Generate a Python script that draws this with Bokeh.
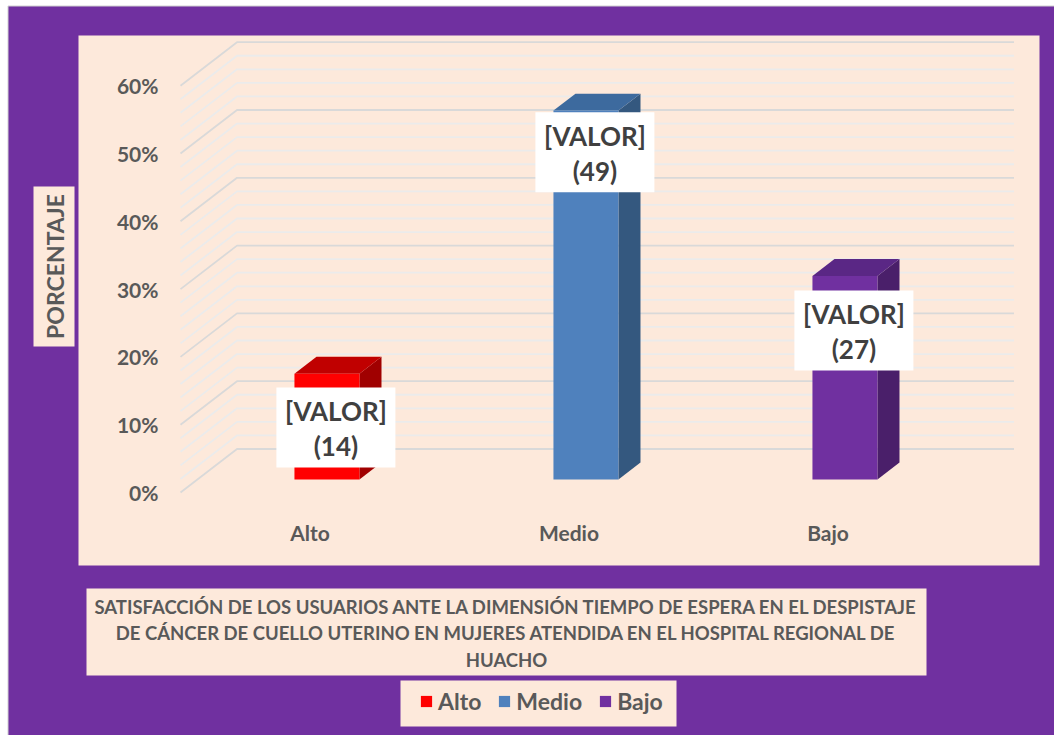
import numpy as np
from bokeh.plotting import figure
from bokeh.models import (Range1d, LinearAxis, FixedTicker, PrintfTickFormatter,
                          ColumnDataSource, Legend, LegendItem)
from bokeh.core.properties import value
from bokeh.embed import file_html
from bokeh.resources import INLINE

# ---------------- data ----------------
categories = ["Alto", "Medio", "Bajo"]
percent = [15.6, 54.4, 30.0]
counts = [14, 49, 27]
y_ticks = [0, 10, 20, 30, 40, 50, 60]
y_max = 60
minor_step = 2
y_title = "PORCENTAJE"
title_lines = [
    "SATISFACCIÓN DE LOS USUARIOS ANTE LA DIMENSIÓN TIEMPO DE ESPERA EN EL DESPISTAJE",
    "DE CÁNCER DE CUELLO UTERINO EN MUJERES ATENDIDA EN EL HOSPITAL REGIONAL DE",
    "HUACHO",
]
label_text = "[VALOR]"

# ---------------- styles ----------------
front_colors = ["#FF0000", "#4F81BD", "#7030A0"]
top_colors = ["#C00000", "#3D6A9E", "#5A2785"]
side_colors = ["#A00000", "#34587F", "#4A1F6A"]
PURPLE = "#7030A0"
PEACH = "#FDE9DB"
TXT = "#595959"
FONT = value("Lato")

W, H = 1054, 735
OX, OY = 0, 0                 # page offset of the canvas
PX_PER_CAT = 259.0            # front plane: one category bin in px
PX_PER_PCT = 6.78             # px per percent
X0_PAGE, Y0_PAGE = 180.0, 492.0  # front-left corner (x=-0.5, y=0)


def px_x(X):
    return (X - X0_PAGE) / PX_PER_CAT - 0.5


def px_y(Y):
    return (Y0_PAGE - Y) / PX_PER_PCT


DX = 56.5 / PX_PER_CAT        # depth offset (front -> back wall) in x units
DY = 43.5 / PX_PER_PCT        # depth offset in y units
ZF, ZB = 0.30, 0.69           # bar front / back depth fraction
HW = 32.5 / PX_PER_CAT        # half width of bar face

p = figure(width=W, height=H, output_backend="svg", toolbar_location=None,
           x_range=Range1d(px_x(OX), px_x(OX + W)),
           y_range=Range1d(px_y(OY + H), px_y(OY)),
           x_axis_type=None, y_axis_type=None,
           min_border=0, min_border_left=0, min_border_right=0,
           min_border_top=0, min_border_bottom=0)
p.background_fill_color = "white"
p.border_fill_color = "white"
p.outline_line_color = None
p.xgrid.visible = False
p.ygrid.visible = False

# outer purple area with thin grey border
p.quad(left=px_x(7.5), right=px_x(1060), bottom=px_y(740), top=px_y(5.5),
       fill_color=PURPLE, line_color="#D0D0D0", line_width=1)

# inner panel
p.quad(left=px_x(78), right=px_x(1039), bottom=px_y(565), top=px_y(35),
       fill_color=PEACH, line_color=None)

# perspective gridlines (left wall + back wall)
levels = list(range(0, y_max + 1, minor_step))
maj_xs, maj_ys, min_xs, min_ys = [], [], [], []
n = len(categories)
for v in levels:
    xs = [-0.5, -0.5 + DX, n - 0.5 + DX]
    ys = [v, v + DY, v + DY]
    if v in y_ticks:
        maj_xs.append(xs); maj_ys.append(ys)
    else:
        min_xs.append(xs); min_ys.append(ys)
p.multi_line(min_xs, min_ys, line_color="#EBEBEB", line_width=1.8)
p.multi_line(maj_xs, maj_ys, line_color="#D9D9D9", line_width=1.8)

# 3D bars
cx = [i + ZF * DX for i in range(n)]
L = [c - HW for c in cx]
R = [c + HW for c in cx]
B = [ZF * DY] * n
T = [v + ZF * DY for v in percent]
ddx, ddy = (ZB - ZF) * DX, (ZB - ZF) * DY

side_xs = [[R[i], R[i] + ddx, R[i] + ddx, R[i]] for i in range(n)]
side_ys = [[B[i], B[i] + ddy, T[i] + ddy, T[i]] for i in range(n)]
top_xs = [[L[i], R[i], R[i] + ddx, L[i] + ddx] for i in range(n)]
top_ys = [[T[i], T[i], T[i] + ddy, T[i] + ddy] for i in range(n)]
p.patches(side_xs, side_ys, fill_color=side_colors, line_color=None)
p.patches(top_xs, top_ys, fill_color=top_colors, line_color=None)

src = ColumnDataSource(dict(left=L, right=R, bottom=B, top=T,
                            color=front_colors, cat=categories))
front = p.quad(left="left", right="right", bottom="bottom", top="top",
               fill_color="color", line_color=None, source=src)

# data labels
label_drop = [6.0, 4.2, 6.1]
lab_x = [i + 0.1 for i in range(n)]
lab_y = [percent[i] - label_drop[i] for i in range(n)]
p.rect(lab_x, lab_y, width=119, height=80, width_units="screen",
       height_units="screen", fill_color="white", line_color=None)
p.text(lab_x, lab_y, text=[label_text] * n, y_offset=-16,
       text_align="center", text_baseline="middle", text_font=FONT,
       text_font_style="bold", text_font_size="26px", text_color="#404040")
p.text(lab_x, lab_y, text=["(%d)" % c for c in counts], y_offset=19,
       text_align="center", text_baseline="middle", text_font=FONT,
       text_font_style="bold", text_font_size="26px", text_color="#404040")

# axes (fixed inside the canvas)
yaxis = LinearAxis(fixed_location=-0.5, ticker=FixedTicker(ticks=y_ticks),
                   formatter=PrintfTickFormatter(format="%d%%"))
xaxis = LinearAxis(fixed_location=0, ticker=FixedTicker(ticks=list(range(n))),
                   major_label_overrides={i: c for i, c in enumerate(categories)})
for ax in (yaxis, xaxis):
    ax.axis_line_color = None
    ax.major_tick_line_color = None
    ax.minor_tick_line_color = None
    ax.major_tick_out = 0
    ax.major_tick_in = 0
    ax.major_label_text_font = "Lato"
    ax.major_label_text_font_style = "bold"
    ax.major_label_text_font_size = "21px"
    ax.major_label_text_color = TXT
yaxis.major_label_standoff = 22
xaxis.major_label_standoff = 27
p.add_layout(yaxis, "left")
p.add_layout(xaxis, "below")

# y-axis title
p.quad(left=px_x(33), right=px_x(74), bottom=px_y(346), top=px_y(186),
       fill_color=PEACH, line_color=None)
p.text([px_x(54)], [px_y(266)], text=[y_title], angle=np.pi / 2,
       text_align="center", text_baseline="middle", text_font=FONT,
       text_font_style="bold", text_font_size="23px", text_color=TXT)

# chart title box
p.quad(left=px_x(86), right=px_x(926), bottom=px_y(675), top=px_y(588),
       fill_color=PEACH, line_color=None)
p.text([px_x(506)] * len(title_lines),
       [px_y(606 + 26.5 * k) for k in range(len(title_lines))],
       text=title_lines, text_align="center", text_baseline="middle",
       text_font=FONT, text_font_style="bold", text_font_size="18.5px",
       text_color=TXT)

# legend (box drawn behind, items placed by the Legend)
p.quad(left=px_x(400), right=px_x(676), bottom=px_y(726), top=px_y(680),
       fill_color=PEACH, line_color=None)
items = [LegendItem(label=categories[i], renderers=[front], index=i) for i in range(n)]
legend = Legend(items=items, orientation="horizontal", location=(419, 20),
                background_fill_alpha=0, border_line_color=None,
                padding=0, margin=0, spacing=16,
                label_standoff=5, glyph_width=14, glyph_height=14,
                label_text_font="Lato", label_text_font_style="bold",
                label_text_font_size="23px", label_text_color=TXT)
p.add_layout(legend)

open("out.html", "w").write(file_html(p, INLINE))
